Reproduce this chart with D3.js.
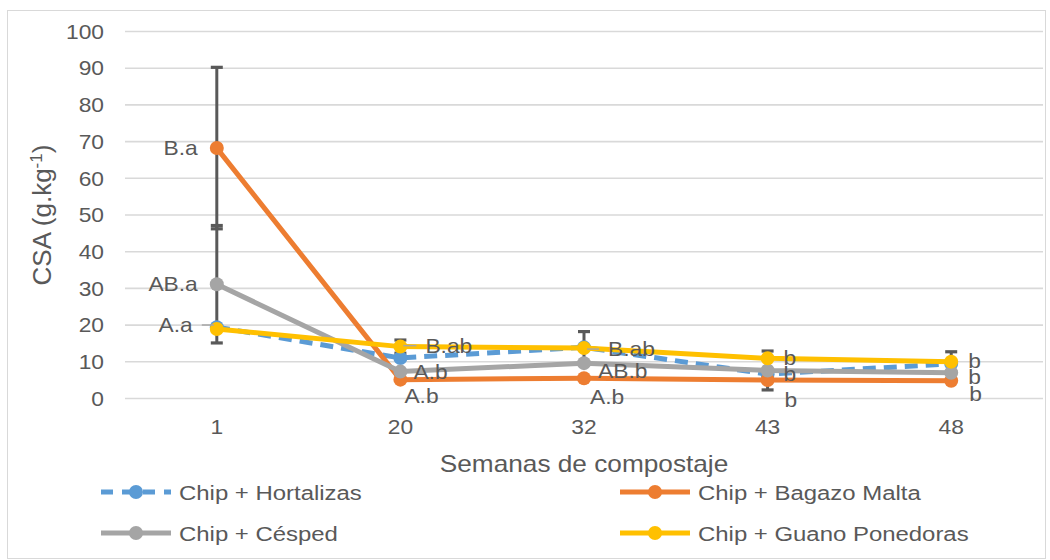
<!DOCTYPE html>
<html>
<head>
<meta charset="utf-8">
<script src="https://cdn.jsdelivr.net/npm/d3@7"></script>
<style>
  body { margin: 0; background: #fff; }
  text { font-family: "Liberation Sans", Arial, sans-serif; fill: #595959; }
</style>
</head>
<body>
<script>
// categories (semanas)
var categories = ["1", "20", "32", "43", "48"];
var seriesNames = ["Chip + Hortalizas", "Chip + Bagazo Malta", "Chip + Césped", "Chip + Guano Ponedoras"];
var yTicks = [0, 10, 20, 30, 40, 50, 60, 70, 80, 90, 100];

// CSA values
var hortalizas = [19.3, 10.9, 13.8, 6.5, 9.3];
var bagazo     = [68.1, 5.0, 5.4, 4.9, 4.7];
var cesped     = [31.0, 7.2, 9.5, 7.5, 6.9];
var guano      = [18.8, 14.0, 13.6, 10.8, 9.9];

// error bars (+/-)
var errHortalizas = [0, 0, 0, 0, 0];
var errBagazo     = [22, 0, 0, 0, 0];
var errCesped     = [16, 0, 0, 5.3, 0];
var errGuano      = [0, 1.8, 4.5, 0, 2.7];

// letters
var labHortalizas = ["", "", "", "", ""];
var labBagazo     = ["B.a", "A.b", "A.b", "b", "b"];
var labCesped     = ["AB.a", "A.b", "AB.b", "b", "b"];
var labGuano      = ["A.a", "B.ab", "B.ab", "b", "b"];

// label placement (px offsets from point), kept apart from data
var placeBagazo = [[-19, 0, "end"], [4, 16, "start"], [6, 19, "start"], [17, 20, "start"], [18, 13, "start"]];
var placeCesped = [[-19, 0, "end"], [13, 0, "start"], [14, 8, "start"], [16, 3, "start"], [17, 4, "start"]];
var placeGuano  = [[-24, -4, "end", 1], [25, -1, "start", 1], [24, 1, "start", 1], [16, -1, "start"], [17, -1, "start"]];

var SX = 1.14; // horizontal text stretch

var series = [
  {name: seriesNames[0], values: hortalizas, err: errHortalizas, labels: labHortalizas, place: null, color: "#5B9BD5", dash: "13,8"},
  {name: seriesNames[1], values: bagazo, err: errBagazo, labels: labBagazo, place: placeBagazo, color: "#ED7D31", dash: null},
  {name: seriesNames[2], values: cesped, err: errCesped, labels: labCesped, place: placeCesped, color: "#A5A5A5", dash: null},
  {name: seriesNames[3], values: guano, err: errGuano, labels: labGuano, place: placeGuano, color: "#FFC000", dash: null}
];

var W = 1050, H = 560;
var svg = d3.select("body").append("svg").attr("width", W).attr("height", H);

// outer border
svg.append("rect")
  .attr("x", 7.5).attr("y", 10.5).attr("width", 1038).attr("height", 548)
  .attr("fill", "#fff").attr("stroke", "#d9d9d9").attr("stroke-width", 1);

var plotLeft = 125, plotRight = 1043, plotTop = 31, plotBottom = 398;

var x = d3.scaleBand().domain(categories).range([plotLeft, plotRight]);
var y = d3.scaleLinear().domain([0, 100]).range([plotBottom, plotTop]);
var cx = function(i) { return x(categories[i]) + x.bandwidth() / 2; };

function stretchText(sel) {
  sel.each(function() {
    var t = d3.select(this);
    var tx = +t.attr("x") || 0, ty = +t.attr("y") || 0;
    t.attr("x", 0).attr("y", 0)
      .attr("transform", "translate(" + tx + "," + ty + ") scale(" + SX + ",1)");
  });
}

// y axis + gridlines
var gy = svg.append("g")
  .attr("transform", "translate(" + plotLeft + ",0)")
  .call(d3.axisLeft(y).tickValues(yTicks).tickSize(-(plotRight - plotLeft)).tickPadding(21));
gy.select(".domain").remove();
gy.selectAll(".tick line").attr("stroke", "#d9d9d9").attr("stroke-width", 1.6);
gy.selectAll(".tick text").attr("font-size", 20).attr("fill", "#595959").attr("dy", "0.36em");
stretchText(gy.selectAll(".tick text"));

// x axis labels
var gx = svg.append("g")
  .attr("transform", "translate(0," + plotBottom + ")")
  .call(d3.axisBottom(x).tickSize(0).tickPadding(29));
gx.select(".domain").remove();
gx.selectAll(".tick text").attr("font-size", 20).attr("fill", "#595959").attr("dy", "0.36em");
stretchText(gx.selectAll(".tick text"));

// axis titles
svg.append("text")
  .attr("text-anchor", "middle").attr("font-size", 23)
  .attr("transform", "translate(" + ((plotLeft + plotRight) / 2) + ",472) scale(" + SX + ",1)")
  .text("Semanas de compostaje");

var yt = svg.append("text")
  .attr("text-anchor", "middle").attr("font-size", 26)
  .attr("transform", "translate(51,215) rotate(-90)");
yt.append("tspan").text("CSA (g.kg");
yt.append("tspan").attr("font-size", 17).attr("dy", -9).text("-1");
yt.append("tspan").attr("dy", 9).text(")");

// error bars
var eb = svg.append("g");
series.forEach(function(s) {
  s.values.forEach(function(v, i) {
    var e = s.err[i];
    if (!e) return;
    var xx = cx(i);
    eb.append("line").attr("x1", xx).attr("x2", xx).attr("y1", y(v - e)).attr("y2", y(v + e))
      .attr("stroke", "#595959").attr("stroke-width", 3);
    [v - e, v + e].forEach(function(c) {
      eb.append("line").attr("x1", xx - 6).attr("x2", xx + 6).attr("y1", y(c)).attr("y2", y(c))
        .attr("stroke", "#595959").attr("stroke-width", 3.2);
    });
  });
});

// lines and markers
var line = d3.line().x(function(d, i) { return cx(i); }).y(function(d) { return y(d); });
series.forEach(function(s) {
  var g = svg.append("g");
  g.append("path").datum(s.values)
    .attr("d", line).attr("fill", "none")
    .attr("stroke", s.color).attr("stroke-width", 5)
    .attr("stroke-linejoin", "round")
    .attr("stroke-dasharray", s.dash);
  g.selectAll("circle").data(s.values).enter().append("circle")
    .attr("cx", function(d, i) { return cx(i); })
    .attr("cy", function(d) { return y(d); })
    .attr("r", 7).attr("fill", s.color);
});

// data labels
series.forEach(function(s) {
  if (!s.place) return;
  s.values.forEach(function(v, i) {
    if (!s.labels[i]) return;
    var p = s.place[i];
    var px = cx(i) + p[0], py = y(v) + p[1];
    if (p[3]) {
      var lx1 = p[2] === "end" ? px + 9 : px - 9;
      var lx2 = p[2] === "end" ? cx(i) - 3 : cx(i) + 3;
      svg.append("line").attr("x1", lx1).attr("x2", lx2).attr("y1", py).attr("y2", py)
        .attr("stroke", "#A6A6A6").attr("stroke-width", 1.5);
    }
    svg.append("text")
      .attr("text-anchor", p[2]).attr("font-size", 20).attr("dy", "0.36em")
      .attr("transform", "translate(" + px + "," + py + ") scale(" + SX + ",1)")
      .text(s.labels[i]);
  });
});

// legend
var legendPos = [[101, 492], [620, 492], [101, 533], [620, 533]];
series.forEach(function(s, i) {
  var lp = legendPos[i];
  var lg = svg.append("g").attr("transform", "translate(" + lp[0] + "," + lp[1] + ")");
  lg.append("line").attr("x1", 0).attr("x2", 70).attr("y1", 0).attr("y2", 0)
    .attr("stroke", s.color).attr("stroke-width", 5)
    .attr("stroke-dasharray", s.dash ? "12,9" : null);
  lg.append("circle").attr("cx", 35).attr("cy", 0).attr("r", 7).attr("fill", s.color);
  lg.append("text").attr("font-size", 21).attr("dy", "0.36em")
    .attr("transform", "translate(78,0) scale(" + SX + ",1)")
    .text(s.name);
});
</script>
</body>
</html>
